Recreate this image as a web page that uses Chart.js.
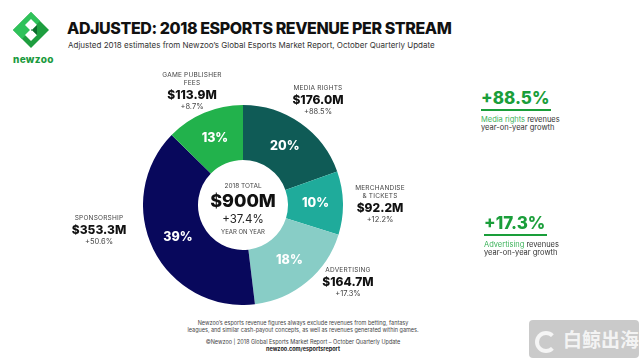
<!DOCTYPE html>
<html>
<head>
<meta charset="utf-8">
<script src="https://cdn.jsdelivr.net/npm/chart.js@4/dist/chart.umd.min.js"></script>
<style>
  html, body { margin: 0; padding: 0; background: #fff; }
  #page { position: relative; width: 640px; height: 360px; overflow: hidden; font-family: Inter, "Open Sans", sans-serif; color: #222; }
  .abs { position: absolute; }
  #title { left: 67px; top: 18px; font-size: 16px; font-weight: 800; color: #111; letter-spacing: -0.4px; white-space: nowrap; }
  #subtitle { left: 68px; top: 40px; font-size: 8px; color: #333; white-space: nowrap; }
  #brand { left: 13px; top: 53px; font-size: 10px; font-weight: 800; color: #1c9a3e; letter-spacing: 0.3px; }
  #pie { left: 143px; top: 105px; width: 200px; height: 200px; }
  .center { left: 193px; width: 100px; text-align: center; }
  .lbl { text-align: center; width: 110px; white-space: nowrap; }
  .lbl .name { font-size: 6.5px; color: #444; line-height: 8px; letter-spacing: 0.2px; }
  .lbl .val { font-size: 12px; font-weight: 800; color: #111; line-height: 14px; margin-top: 1px; }
  .lbl .chg { font-size: 7.5px; color: #444; line-height: 10px; }
  .big { font-size: 17px; font-weight: 800; color: #1a9e3a; line-height: 20px; border-bottom: 2px solid #1a9e3a; padding-bottom: 1px; display: inline-block; padding-right: 2px; }
  .note { font-size: 7.5px; color: #333; line-height: 8px; margin-top: 5px; }
  .note span { color: #3cb35a; }
  .foot { left: 150px; width: 306px; text-align: center; font-size: 5.5px; color: #444; line-height: 7px; white-space: nowrap; }
  #wm { left: 529px; top: 320px; width: 110px; height: 38px; background: rgba(150,150,150,0.5); border-radius: 4px; color: rgba(255,255,255,0.8); font-family: "Noto Sans CJK SC", sans-serif; font-size: 19px; font-weight: 700; line-height: 38px; }
</style>
</head>
<body>
<div id="page">
  <svg class="abs" style="left:12px;top:11px" width="38" height="38" viewBox="0 0 38 38">
    <polygon points="19,1 37,19 19,37 1,19" fill="#1e9e3f"/>
    <polygon points="19,1 28,10 10,28 1,19" fill="#2fc25a"/>
    <polygon points="13,14 19,8 25,14 19,20" fill="#fff"/>
    <polygon points="13,24 19,18 25,24 19,30" fill="#fff"/>
    <polygon points="19,20 25,14 25,24 19,18" fill="#0d6b2c"/>
  </svg>
  <div id="brand" class="abs">newzoo</div>
  <div id="title" class="abs">ADJUSTED: 2018 ESPORTS REVENUE PER STREAM</div>
  <div id="subtitle" class="abs">Adjusted 2018 estimates from Newzoo’s Global Esports Market Report, October Quarterly Update</div>

  <canvas id="pie" class="abs" width="200" height="200"></canvas>

  <div class="abs center" style="top:182px;font-size:6.5px;color:#444">2018 TOTAL</div>
  <div class="abs center" id="total" style="top:190px;font-size:18px;font-weight:800;color:#111"></div>
  <div class="abs center" id="totalChg" style="top:212px;font-size:11.5px;color:#222"></div>
  <div class="abs center" style="top:228px;font-size:6px;color:#444">YEAR ON YEAR</div>

  <div id="labels"></div>

  <div class="abs" style="left:481px;top:88px">
    <div class="big">+88.5%</div>
    <div class="note"><span>Media rights</span> revenues<br>year-on-year growth</div>
  </div>
  <div class="abs" style="left:484px;top:213px">
    <div class="big">+17.3%</div>
    <div class="note"><span>Advertising</span> revenues<br>year-on-year growth</div>
  </div>

  <div class="abs foot" style="top:320px">Newzoo’s esports revenue figures always exclude revenues from betting, fantasy<br>leagues, and similar cash-payout concepts, as well as revenues generated within games.</div>
  <div class="abs foot" style="top:339px">©Newzoo | 2018 Global Esports Market Report – October Quarterly Update<br><b style="color:#222">newzoo.com/esportsreport</b></div>

  <div id="wm" class="abs"><span style="display:inline-block;width:22px;height:22px;border:4px solid rgba(255,255,255,0.8);border-radius:50%;vertical-align:middle;margin:0 6px 0 6px;box-sizing:border-box;border-right-color:transparent"></span>白鲸出海</div>
</div>

<script>
const segments = ['MEDIA RIGHTS', 'MERCHANDISE\n& TICKETS', 'ADVERTISING', 'SPONSORSHIP', 'GAME PUBLISHER\nFEES'];
const revenue = [176.0, 92.2, 164.7, 353.3, 113.9];
const growth = ['+88.5%', '+12.2%', '+17.3%', '+50.6%', '+8.7%'];
const colors = ['#0f5b56', '#1fab9b', '#88cdc6', '#08085c', '#22b24c'];
const totalRevenue = 900;
const totalGrowth = '+37.4%';

document.getElementById('total').textContent = '$' + totalRevenue + 'M';
document.getElementById('totalChg').textContent = totalGrowth;

// outer label boxes (center x, top y)
const labelPos = [[318, 84], [380, 184], [348, 266], [99, 214], [192, 71]];
const labelsDiv = document.getElementById('labels');
segments.forEach((name, i) => {
  const d = document.createElement('div');
  d.className = 'abs lbl';
  d.style.left = (labelPos[i][0] - 55) + 'px';
  d.style.top = labelPos[i][1] + 'px';
  d.innerHTML = `<div class="name">${name.replace('\n', '<br>')}</div>
    <div class="val">$${revenue[i].toFixed(1)}M</div>
    <div class="chg">${growth[i]}</div>`;
  labelsDiv.appendChild(d);
});

const pctLabels = {
  id: 'pctLabels',
  afterDatasetsDraw(chart) {
    const ctx = chart.ctx;
    const meta = chart.getDatasetMeta(0);
    const sum = revenue.reduce((a, b) => a + b, 0);
    ctx.save();
    ctx.fillStyle = '#fff';
    ctx.font = '800 12.5px Inter';
    ctx.textAlign = 'center';
    ctx.textBaseline = 'middle';
    meta.data.forEach((arc, i) => {
      const p = arc.getCenterPoint();
      ctx.fillText(Math.round(revenue[i] / sum * 100) + '%', p.x, p.y);
    });
    ctx.restore();
  }
};

new Chart(document.getElementById('pie'), {
  type: 'doughnut',
  data: {
    labels: segments,
    datasets: [{
      data: revenue,
      backgroundColor: colors,
      borderWidth: 0
    }]
  },
  options: {
    responsive: false,
    animation: false,
    cutout: '45%',
    layout: { padding: 0 },
    plugins: { legend: { display: false }, tooltip: { enabled: false } }
  },
  plugins: [pctLabels]
});
</script>
</body>
</html>
